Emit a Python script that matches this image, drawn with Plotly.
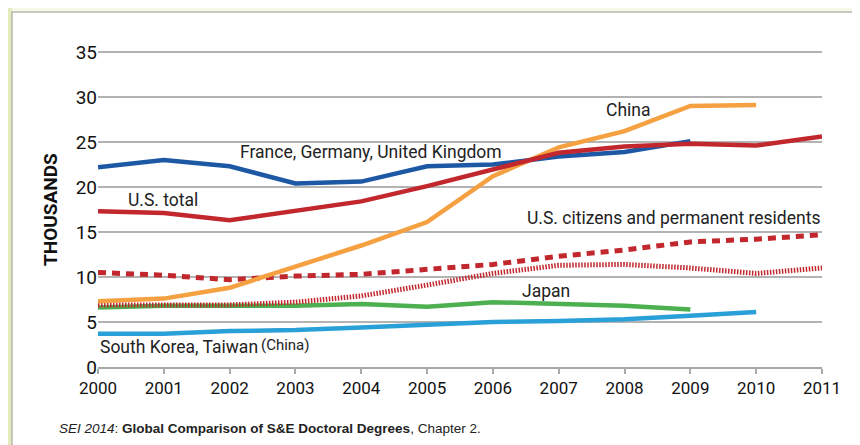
import plotly.graph_objects as go

years = list(range(2000, 2012))

fgu = [22.2, 23.0, 22.3, 20.4, 20.6, 22.3, 22.5, 23.4, 23.9, 25.1]
us_total = [17.3, 17.1, 16.3, 17.4, 18.4, 20.1, 22.0, 23.8, 24.5, 24.8, 24.6, 25.6]
china = [7.3, 7.6, 8.8, 11.1, 13.5, 16.1, 21.2, 24.4, 26.2, 29.0, 29.1]
us_citizens = [10.5, 10.2, 9.7, 10.1, 10.3, 10.9, 11.4, 12.3, 13.0, 13.9, 14.2, 14.7]
us_temp = [6.9, 6.9, 6.9, 7.2, 7.9, 9.1, 10.4, 11.3, 11.4, 11.0, 10.4, 11.0]
japan = [6.6, 6.8, 6.8, 6.8, 7.0, 6.7, 7.2, 7.0, 6.8, 6.4]
korea_taiwan = [3.7, 3.7, 4.0, 4.1, 4.4, 4.7, 5.0, 5.1, 5.3, 5.7, 6.1]

y_ticks = [0, 5, 10, 15, 20, 25, 30, 35]

RED = "#c1272d"
BLUE = "#1d58a5"
ORANGE = "#f5a041"
GREEN = "#4cb050"
LBLUE = "#2aa0d8"

COND = "Liberation Sans Narrow, Roboto, Arial"

fig = go.Figure()

def add(vals, color, dash="solid", width=4.5):
    fig.add_trace(go.Scatter(
        x=years[:len(vals)], y=vals, mode="lines",
        line=dict(color=color, width=width, dash=dash),
        hoverinfo="skip", showlegend=False))

add(korea_taiwan, LBLUE)
add(japan, GREEN)
add(us_temp, RED, dash="1.5px,1.5px", width=5)
add(us_citizens, RED, dash="8px,6px", width=5)
add(fgu, BLUE)
add(china, ORANGE)
add(us_total, RED)

# page has an 8px body margin: figure coords = screen coords - 8
OFF = 8
W, H = 860, 445
# plot area in screen pixels: left 98, right 822, top 43, bottom 367
L, R, T, B = 98 - OFF, 822 - OFF, 43 - OFF, 367 - OFF

def px(x):  # screen pixel x -> paper
    return (x - OFF - L) / (R - L)
def py(y):  # screen pixel y -> paper
    return (B - (y - OFF)) / (B - T)

shapes = [
    dict(type="rect", xref="paper", yref="paper", x0=px(-10), x1=px(12), y0=py(470), y1=py(-10),
         fillcolor="#e3ecbc", line=dict(width=0), layer="below"),
    dict(type="rect", xref="paper", yref="paper", x0=px(12), x1=px(890), y0=py(470), y1=py(12),
         fillcolor="white", line=dict(color="#b8b8aa", width=1.5), layer="below"),
]

ann_font = dict(family=COND, size=17.5, color="#222222")
annotations = [
    dict(x=2004.15, y=23.9, text="France, Germany, United Kingdom", showarrow=False, font=ann_font),
    dict(x=2000.98, y=18.6, text="U.S. total", showarrow=False, font=ann_font),
    dict(x=2008.05, y=28.6, text="China", showarrow=False, font=ann_font),
    dict(x=2011.0, y=16.6, text="U.S. citizens and permanent residents", showarrow=False,
         xanchor="right", font=ann_font),
    dict(x=2011.1, y=8.8, text="U.S. temporary residents", showarrow=False,
         xanchor="right", font=ann_font),
    dict(x=2006.8, y=8.4, text="Japan", showarrow=False, font=ann_font),
    dict(x=2000.0, y=2.2, text="South Korea, Taiwan", showarrow=False, xanchor="left", font=ann_font),
    dict(x=2002.45, y=2.5, text="(China)", showarrow=False, xanchor="left",
         font=dict(family=COND, size=15, color="#222222")),
    dict(xref="paper", yref="paper", x=px(50), y=py(210), xanchor="center", yanchor="middle",
         text="<b>THOUSANDS</b>", textangle=-90,
         showarrow=False, font=dict(family=COND, size=19, color="#111111")),
    dict(xref="paper", yref="paper", x=px(57), y=py(428), xanchor="left", yanchor="middle",
         text="<i>SEI 2014</i>: <b>Global Comparison of S&amp;E Doctoral Degrees</b>, Chapter 2.",
         showarrow=False, font=dict(family="Liberation Sans, Arial", size=13.5, color="#222222")),
]

fig.update_layout(
    width=W, height=H,
    margin=dict(l=L, r=W - R, t=T, b=H - B),
    paper_bgcolor="#f7f8ea",
    plot_bgcolor="rgba(0,0,0,0)",
    shapes=shapes,
    annotations=annotations,
    xaxis=dict(
        range=[2000, 2011], tickmode="array", tickvals=years, ticktext=[str(y) for y in years],
        showgrid=False, zeroline=False, showline=True, linecolor="#a8a8a8", linewidth=2,
        ticks="outside", ticklen=5, tickwidth=1.5, tickcolor="#a8a8a8",
        tickfont=dict(family=COND, size=17, color="#111111"), fixedrange=True,
    ),
    yaxis=dict(
        range=[0, 36], tickmode="array", tickvals=y_ticks, ticktext=[str(v) for v in y_ticks],
        showgrid=True, gridcolor="#b3b3b3", gridwidth=2, zeroline=False, showline=False,
        ticks="", tickfont=dict(family=COND, size=19, color="#111111"), fixedrange=True,
    ),
)

fig.write_html("out.html")
